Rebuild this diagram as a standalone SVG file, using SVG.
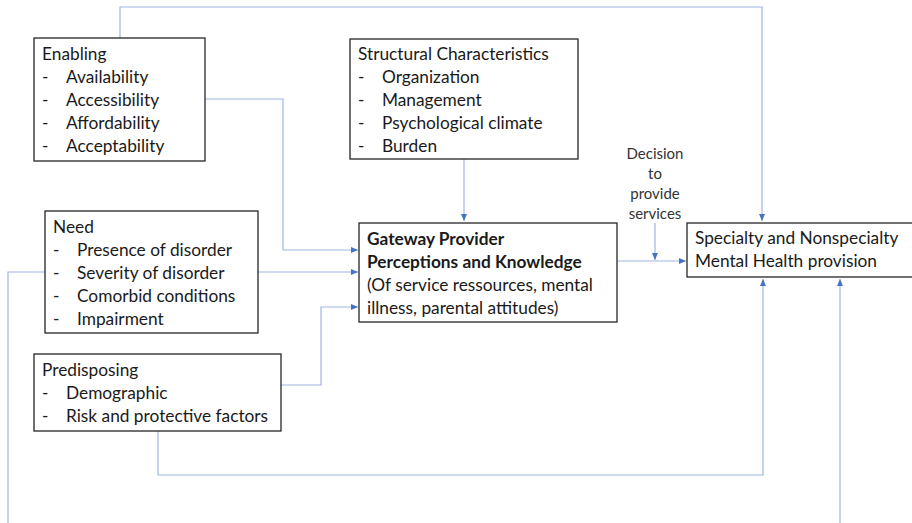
<svg xmlns="http://www.w3.org/2000/svg" width="912" height="523" viewBox="0 0 912 523">
<style>
.box{fill:#fff;stroke:#262626;stroke-width:1.3}
.t{font-family:Lato,"Open Sans","Liberation Sans",sans-serif;font-size:17.3px;fill:#1a1a1a}
.b{font-weight:bold}
.s{font-family:Lato,"Open Sans","Liberation Sans",sans-serif;font-size:15px;fill:#333;text-anchor:middle}
.c{fill:none;stroke:#9fb6e2;stroke-width:1.2}
</style>
<defs>
<marker id="ah" markerWidth="8" markerHeight="8" refX="7" refY="4" orient="auto" markerUnits="userSpaceOnUse">
<path d="M0,1 L7,4 L0,7 Z" fill="#4472c4"/>
</marker>
</defs>
<rect width="912" height="523" fill="#fff"/>
<g id="connectors">
<path class="c" d="M120,38 V7 H762 V221" marker-end="url(#ah)"/>
<path class="c" d="M205,99 H283 V250 H358" marker-end="url(#ah)"/>
<path class="c" d="M464,159 V221" marker-end="url(#ah)"/>
<path class="c" d="M258,272 H358" marker-end="url(#ah)"/>
<path class="c" d="M45,272 H8 V523"/>
<path class="c" d="M281,385 H321 V307 H358" marker-end="url(#ah)"/>
<path class="c" d="M158,431 V475 H763 V279" marker-end="url(#ah)"/>
<path class="c" d="M840,523 V279" marker-end="url(#ah)"/>
<path class="c" d="M617,261 H686" marker-end="url(#ah)"/>
<path class="c" d="M655,223 V260" marker-end="url(#ah)"/>
</g>
<g id="enabling">
<rect class="box" x="34" y="38" width="171" height="123"/>
<text class="t" x="42" y="60">Enabling</text>
<text class="t" x="42" y="83">-</text><text class="t" x="66" y="83">Availability</text>
<text class="t" x="42" y="106">-</text><text class="t" x="66" y="106">Accessibility</text>
<text class="t" x="42" y="129">-</text><text class="t" x="66" y="129">Affordability</text>
<text class="t" x="42" y="152">-</text><text class="t" x="66" y="152">Acceptability</text>
</g>
<g id="structural">
<rect class="box" x="350" y="39" width="228" height="120"/>
<text class="t" x="358" y="60">Structural Characteristics</text>
<text class="t" x="358" y="83">-</text><text class="t" x="382" y="83">Organization</text>
<text class="t" x="358" y="106">-</text><text class="t" x="382" y="106">Management</text>
<text class="t" x="358" y="129">-</text><text class="t" x="382" y="129">Psychological climate</text>
<text class="t" x="358" y="152">-</text><text class="t" x="382" y="152">Burden</text>
</g>
<g id="need">
<rect class="box" x="45" y="211" width="213" height="122"/>
<text class="t" x="53" y="233">Need</text>
<text class="t" x="53" y="256">-</text><text class="t" x="77" y="256">Presence of disorder</text>
<text class="t" x="53" y="279">-</text><text class="t" x="77" y="279">Severity of disorder</text>
<text class="t" x="53" y="302">-</text><text class="t" x="77" y="302">Comorbid conditions</text>
<text class="t" x="53" y="325">-</text><text class="t" x="77" y="325">Impairment</text>
</g>
<g id="predisposing">
<rect class="box" x="34" y="354" width="247" height="77"/>
<text class="t" x="42" y="376">Predisposing</text>
<text class="t" x="42" y="399">-</text><text class="t" x="66" y="399">Demographic</text>
<text class="t" x="42" y="422">-</text><text class="t" x="66" y="422">Risk and protective factors</text>
</g>
<g id="gateway">
<rect class="box" x="359" y="223" width="258" height="99"/>
<text class="t b" x="367" y="245">Gateway Provider</text>
<text class="t b" x="367" y="268">Perceptions and Knowledge</text>
<text class="t" x="367" y="291">(Of service ressources, mental</text>
<text class="t" x="367" y="314">illness, parental attitudes)</text>
</g>
<g id="specialty">
<rect class="box" x="687" y="223" width="230" height="54"/>
<text class="t" x="695" y="244">Specialty and Nonspecialty</text>
<text class="t" x="695" y="267">Mental Health provision</text>
</g>
<g id="decision">
<text class="s" x="655" y="159">Decision</text>
<text class="s" x="655" y="179">to</text>
<text class="s" x="655" y="199">provide</text>
<text class="s" x="655" y="219">services</text>
</g>
</svg>
